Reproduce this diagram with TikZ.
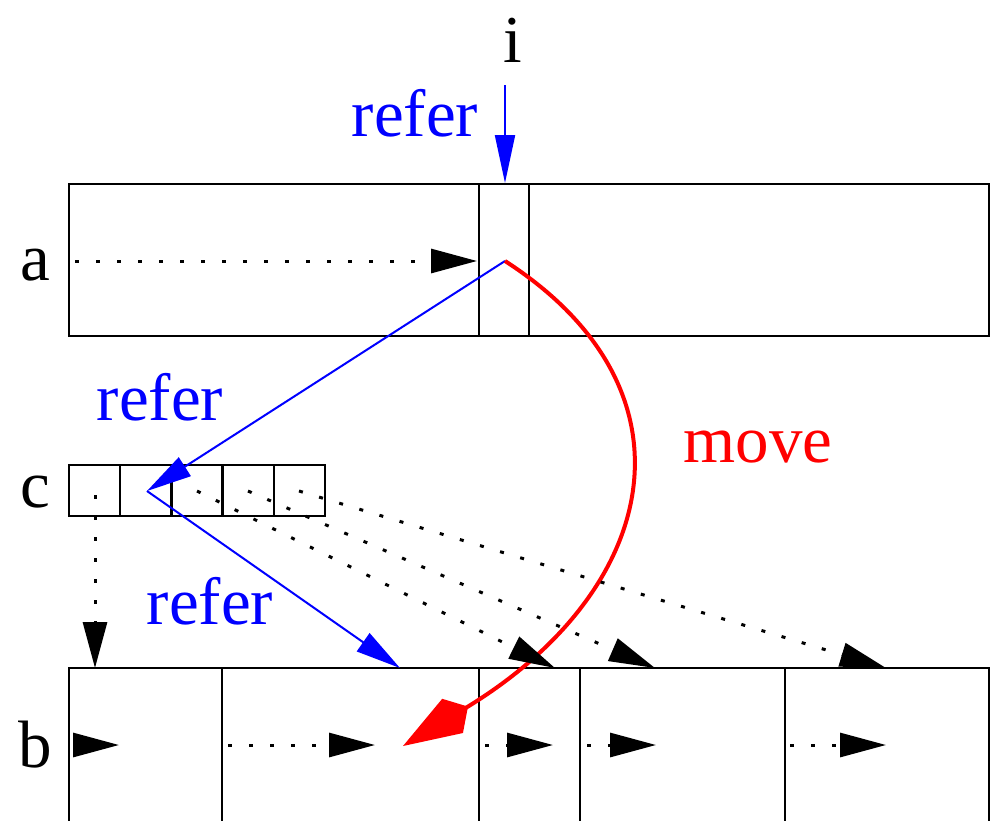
\documentclass[tikz,border=0pt]{standalone}
\usepackage{fontspec}
\setmainfont{Liberation Serif}
\usetikzlibrary{arrows.meta}
\begin{document}
\begin{tikzpicture}[x=1pt,y=-1pt,
  boxnode/.style={draw,line width=2.5pt,rectangle,inner sep=0pt,outer sep=0pt},
  lbl/.style={font=\fontsize{67}{72}\selectfont,inner sep=0pt},
  divider/.style={line width=2.5pt},
  blacktip/.style={-{Triangle[length=46pt,width=24pt]}},
  dotarrow/.style={line width=3pt,dash pattern=on 4pt off 17pt,blacktip},
  bluearrow/.style={blue,line width=2pt,-{Triangle[length=45pt,width=22pt]}},
  movearrow/.style={red,line width=4pt,-{Kite[length=76pt,width=40pt,inset=18pt]}}]
\clip (0,0) rectangle (994,820);
% boxes
\node[boxnode,minimum width=920pt,minimum height=152pt] (boxa) at (529,260) {};
\node[boxnode,minimum width=256pt,minimum height=51pt] (boxc) at (197,490.5) {};
\node[boxnode,minimum width=920pt,minimum height=160pt] (boxb) at (529,748) {};
% dividers
\draw[divider] (479,184) -- (479,336);
\draw[divider] (529,184) -- (529,336);
\foreach \x in {120.2,171.4,222.6,273.8} \draw[divider] (\x,465) -- (\x,516);
\foreach \x in {222,479,580,785} \draw[divider] (\x,668) -- (\x,822);
% labels
\node[lbl] (la) at (35,265) {a};
\node[lbl] (lc) at (35,492) {c};
\node[lbl] (lb) at (35,745) {b};
\node[lbl] (li) at (513,40) {i};
\node[lbl,blue] (r1) at (415,113) {refer};
\node[lbl,blue] (r2) at (160,397) {refer};
\node[lbl,blue] (r3) at (210,601) {refer};
\node[lbl,red] (mv) at (758,447) {move};
% key points
\coordinate (itop) at (505,85);
\coordinate (ai) at (505,183);
\coordinate (acell) at (505,261);
\coordinate (astart) at (75,261);
\coordinate (aend) at (477,261);
\coordinate (c1) at (95,495);
\coordinate (c2) at (147,491);
\coordinate (c3) at (197,491);
\coordinate (c4) at (248,491);
\coordinate (c5) at (299,491);
\coordinate (b1top) at (95,668);
\coordinate (b2top) at (400,668);
\coordinate (b3top) at (555,668);
\coordinate (b4top) at (655,668);
\coordinate (b5top) at (886,668);
\coordinate (bmove) at (403,746);
% arrows
\draw[bluearrow,-{Triangle[length=48pt,width=20pt]}] (itop) -- (ai);
\draw[dotarrow] (astart) -- (aend);
\draw[bluearrow] (acell) -- (c2);
\draw[bluearrow] (c2) -- (b2top);
\draw[movearrow] (acell) .. controls (705,390) and (660,590) .. (bmove);
\draw[dotarrow] (c1) -- (b1top);
\draw[dotarrow] (c3) -- (b3top);
\draw[dotarrow] (c4) -- (b4top);
\draw[dotarrow] (c5) -- (b5top);
% row b arrows
\draw[dotarrow] (73,745) -- (119,745);
\draw[dotarrow] (228,745) -- (375,745);
\draw[dotarrow] (485,745) -- (553,745);
\draw[dotarrow] (587,745) -- (656,745);
\draw[dotarrow] (790,745) -- (886,745);
\end{tikzpicture}
\end{document}
